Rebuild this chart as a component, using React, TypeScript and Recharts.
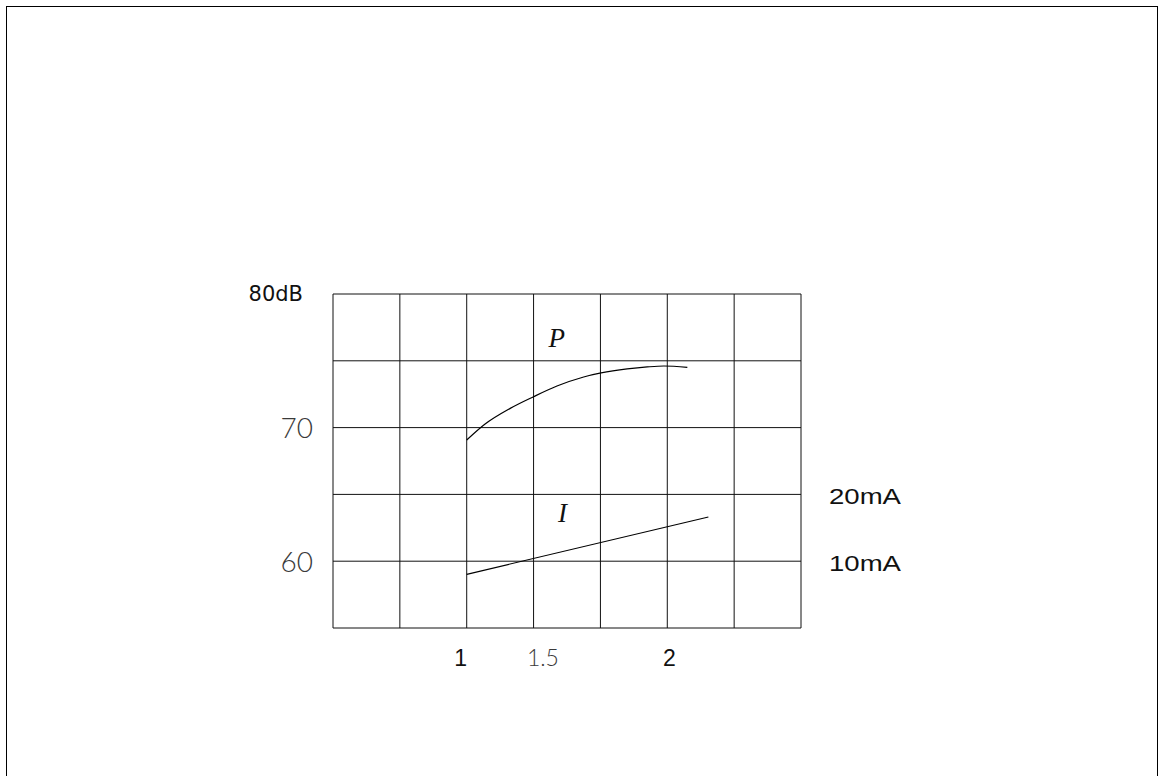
import React from "react";
import { ComposedChart, Line, XAxis, YAxis, CartesianGrid, ReferenceDot } from "recharts";

// grid divisions
const gridXTicks = [1 / 3, 2 / 3, 1, 4 / 3, 5 / 3, 2, 7 / 3, 8 / 3];
const gridYTicks = [55, 60, 65, 70, 75, 80];

// bottom labels (placed where the drawing puts them)
const xTickPositions = [0.97, 1.38, 2.01];
const xTickLabels = ["1", "1.5", "2"];

// left labels
const leftTickValues = [60, 70, 80];
const leftTickLabels = ["60", "70", "80dB"];

// right labels
const rightTickValues = [60, 65];
const rightTickLabels = ["10mA", "20mA"];

// curve P
const pX = [1.0, 1.09, 1.217, 1.333, 1.45, 1.583, 1.67, 1.8, 1.9, 1.983, 2.1];
const pY = [69.07, 70.25, 71.44, 72.31, 73.11, 73.79, 74.09, 74.39, 74.54, 74.61, 74.51];

// curve I
const iX = [1.0, 2.205];
const iY = [59.02, 63.31];

// curve names
const curveNames = ["P", "I"];
const curveNameX = [1.449, 1.477];
const curveNameY = [76.03, 62.93];

const pData = pX.map((x, i) => ({ x, y: pY[i] }));
const iData = iX.map((x, i) => ({ x, y: iY[i] }));

const X_DOMAIN: [number, number] = [1 / 3, 8 / 3];
const Y_DOMAIN: [number, number] = [55, 80];

const thinFont = {
  fontFamily: 'Lato, "DejaVu Sans", sans-serif',
  fontWeight: 300,
  fill: "#3a3a3a",
};

const LeftTick = (props: any) => {
  const { x, y, payload } = props;
  const idx = leftTickValues.indexOf(payload.value);
  if (idx < 0) return <g />;
  const label = leftTickLabels[idx];
  if (label.endsWith("dB")) {
    return (
      <text x={x - 30} y={y + 6.5} textAnchor="end" style={{ fontFamily: '"DejaVu Sans", sans-serif', fontSize: 21, fill: "#111" }}>
        {label}
      </text>
    );
  }
  return (
    <text x={x - 20} y={y + 10.5} textAnchor="end" style={{ ...thinFont, fontSize: 28 }}>
      {label}
    </text>
  );
};

const RightTick = (props: any) => {
  const { x, y, payload } = props;
  const idx = rightTickValues.indexOf(payload.value);
  if (idx < 0) return <g />;
  const label = rightTickLabels[idx];
  return (
    <text
      x={x + 28}
      y={y + 9.5}
      textAnchor="start"
      textLength={72}
      lengthAdjust="spacingAndGlyphs"
      style={{ fontFamily: '"Liberation Sans", Arial, sans-serif', fontSize: 22, fill: "#111" }}
    >
      {label}
    </text>
  );
};

const BottomTick = (props: any) => {
  const { x, y, index } = props;
  const label = xTickLabels[index];
  if (label === undefined) return <g />;
  const thin = label.includes(".");
  return (
    <text
      x={x}
      y={y + 7.5}
      textAnchor="middle"
      style={
        thin
          ? { ...thinFont, fontSize: 23 }
          : { fontFamily: '"Liberation Sans", Arial, sans-serif', fontSize: 23, fill: "#111" }
      }
    >
      {label}
    </text>
  );
};

const CurveName = (name: string) => (p: any) => (
  <text
    x={p.cx}
    y={p.cy}
    textAnchor="middle"
    style={{ fontFamily: '"Liberation Serif", "Times New Roman", serif', fontStyle: "italic", fontSize: 27, fill: "#111" }}
  >
    {name}
  </text>
);

export default function App() {
  return (
    <div style={{ position: "absolute", left: 0, top: 0, width: 1158, height: 776, overflow: "hidden", background: "#fff" }}>
      <div
        style={{
          position: "absolute",
          left: 6,
          top: 6,
          width: 1152,
          height: 800,
          boxSizing: "border-box",
          border: "1.5px solid #000",
        }}
      />
      <div style={{ position: "absolute", left: 0, top: 0 }}>
        <ComposedChart width={1158} height={776} margin={{ top: 294, right: 0, bottom: 108, left: 0 }}>
          <XAxis
            xAxisId="grid"
            dataKey="x"
            type="number"
            domain={X_DOMAIN}
            ticks={gridXTicks}
            interval={0}
            allowDataOverflow
            hide
          />
          <XAxis
            xAxisId="lbl"
            dataKey="x"
            type="number"
            domain={X_DOMAIN}
            ticks={xTickPositions}
            interval={0}
            allowDataOverflow
            height={40}
            axisLine={false}
            tickLine={false}
            tickSize={0}
            tickMargin={0}
            tick={<BottomTick />}
          />
          <YAxis
            yAxisId="left"
            type="number"
            domain={Y_DOMAIN}
            ticks={gridYTicks}
            interval={0}
            width={333}
            allowDataOverflow
            axisLine={false}
            tickLine={false}
            tickSize={0}
            tickMargin={0}
            tick={<LeftTick />}
          />
          <YAxis
            yAxisId="right"
            orientation="right"
            type="number"
            domain={Y_DOMAIN}
            ticks={rightTickValues}
            interval={0}
            width={357}
            allowDataOverflow
            axisLine={false}
            tickLine={false}
            tickSize={0}
            tickMargin={0}
            tick={<RightTick />}
          />
          <CartesianGrid xAxisId="grid" yAxisId="left" stroke="#111" strokeWidth={1} />
          <Line
            xAxisId="grid"
            yAxisId="left"
            data={pData}
            dataKey="y"
            type="monotone"
            stroke="#000"
            strokeWidth={1.2}
            dot={false}
            activeDot={false}
            isAnimationActive={false}
          />
          <Line
            xAxisId="lbl"
            yAxisId="right"
            data={iData}
            dataKey="y"
            type="linear"
            stroke="#000"
            strokeWidth={1.2}
            dot={false}
            activeDot={false}
            isAnimationActive={false}
          />
          {curveNames.map((n, i) => (
            <ReferenceDot
              key={n}
              xAxisId="grid"
              yAxisId="left"
              x={curveNameX[i]}
              y={curveNameY[i]}
              r={0}
              ifOverflow="visible"
              shape={CurveName(n)}
            />
          ))}
        </ComposedChart>
      </div>
    </div>
  );
}
